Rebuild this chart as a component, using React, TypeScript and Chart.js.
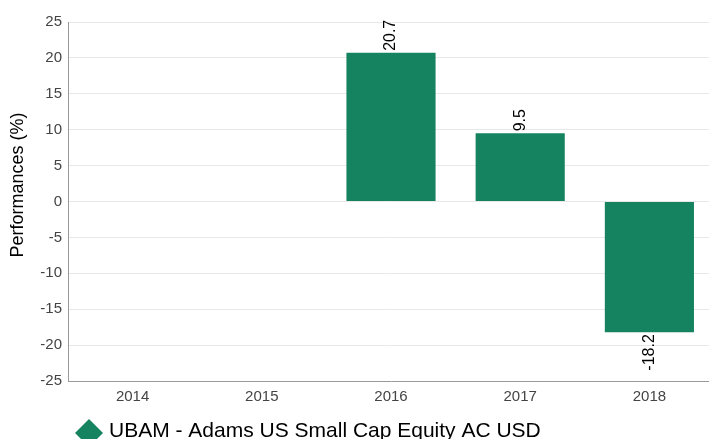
import React, { useEffect, useRef } from "react";
import { Chart, registerables } from "chart.js";

Chart.register(...registerables);

const categories = ["2014", "2015", "2016", "2017", "2018"];
const performances: (number | null)[] = [null, null, 20.7, 9.5, -18.2];
const seriesLabel = "UBAM - Adams US Small Cap Equity AC USD";
const yTitle = "Performances (%)";
const yTicks = [-25, -20, -15, -10, -5, 0, 5, 10, 15, 20, 25];

const FONT = "'Liberation Sans', Arial, sans-serif";
const BAR = "rgb(22,131,96)";

const labelPlugin = {
  id: "labels",
  afterDatasetsDraw(chart: any) {
    const ctx = chart.ctx;
    const meta = chart.getDatasetMeta(0);
    ctx.save();
    ctx.font = `16px ${FONT}`;
    ctx.fillStyle = "#000";
    ctx.textBaseline = "middle";
    meta.data.forEach((el: any, i: number) => {
      const v = performances[i];
      if (v == null) return;
      ctx.save();
      ctx.translate(el.x, el.y);
      ctx.rotate(-Math.PI / 2);
      if (v >= 0) {
        ctx.textAlign = "left";
        ctx.fillText(v.toFixed(1), 2, 0);
      } else {
        ctx.textAlign = "right";
        ctx.fillText(v.toFixed(1), -2, 0);
      }
      ctx.restore();
    });
    ctx.restore();
  },
};

const decorPlugin = {
  id: "decor",
  afterDraw(chart: any) {
    const ctx = chart.ctx;
    ctx.save();
    // y axis title
    ctx.save();
    ctx.translate(18, 185);
    ctx.rotate(-Math.PI / 2);
    ctx.font = `18px ${FONT}`;
    ctx.fillStyle = "#000";
    ctx.textAlign = "center";
    ctx.textBaseline = "middle";
    ctx.fillText(yTitle, 0, 0);
    ctx.restore();
    // legend
    const cx = 89, cy = 433, r = 14;
    ctx.fillStyle = BAR;
    ctx.beginPath();
    ctx.moveTo(cx, cy - r);
    ctx.lineTo(cx + r, cy);
    ctx.lineTo(cx, cy + r);
    ctx.lineTo(cx - r, cy);
    ctx.closePath();
    ctx.fill();
    ctx.font = `21px ${FONT}`;
    ctx.fillStyle = "#000";
    ctx.textAlign = "left";
    ctx.textBaseline = "alphabetic";
    ctx.fillText(chart.data.datasets[0].label, 109, 437);
    ctx.restore();
  },
};

export default function App() {
  const ref = useRef<HTMLCanvasElement>(null);
  useEffect(() => {
    document.body.style.margin = "0";
    const chart = new Chart(ref.current!, {
      type: "bar",
      data: {
        labels: categories,
        datasets: [
          {
            label: seriesLabel,
            data: performances as any,
            backgroundColor: BAR,
            barPercentage: 0.69,
            categoryPercentage: 1,
          },
        ],
      },
      options: {
        animation: false,
        responsive: false,
        maintainAspectRatio: false,
        layout: { padding: { top: 22, left: 0, right: 0, bottom: 0 } },
        plugins: { legend: { display: false }, tooltip: { enabled: false } },
        scales: {
          x: {
            grid: { display: false, drawTicks: false },
            border: { display: true, color: "#999" },
            ticks: { font: { family: FONT, size: 15 }, color: "#444", padding: 7 },
            afterFit: (s: any) => {
              s.height = 58;
            },
          },
          y: {
            min: -25,
            max: 25,
            afterBuildTicks: (s: any) => {
              s.ticks = yTicks.map((v) => ({ value: v }));
            },
            grid: { color: "#e8e8e8", drawTicks: false },
            border: { display: true, color: "#999" },
            ticks: { font: { family: FONT, size: 15 }, color: "#444", padding: 6 },
            afterFit: (s: any) => {
              s.width = 68;
            },
          },
        },
      },
      plugins: [labelPlugin, decorPlugin],
    });
    return () => chart.destroy();
  }, []);
  return (
    <div style={{ width: 709, height: 439, overflow: "hidden", position: "relative" }}>
      <canvas ref={ref} width={714} height={439} style={{ display: "block", width: 714, height: 439 }} />
    </div>
  );
}
